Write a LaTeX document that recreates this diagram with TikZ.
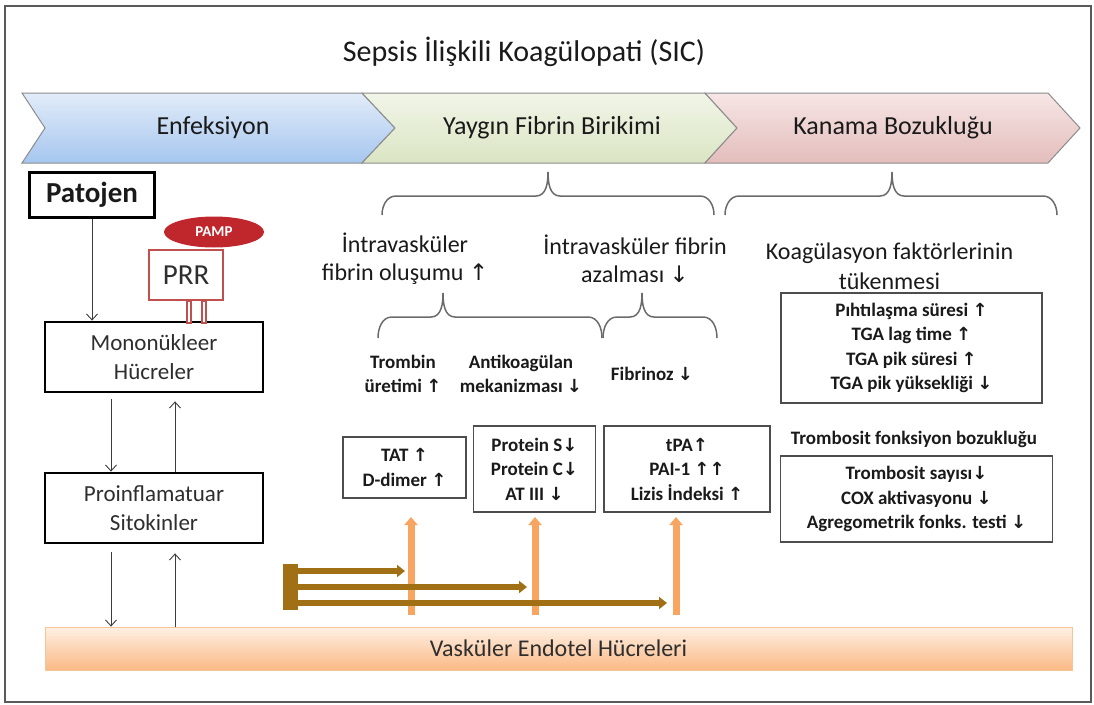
\documentclass[tikz,border=0pt]{standalone}
\usepackage{fontspec}
\setmainfont{Carlito}
\newfontfamily\arrowfont[Scale=0.95]{DejaVu Sans}
\usepackage{xcolor}
\usepackage{tikz}
\usetikzlibrary{positioning, arrows.meta, shapes.geometric, calc}
\definecolor{ink}{HTML}{1A1A1A}
\definecolor{celltext}{HTML}{2E2E2E}
\definecolor{framegray}{HTML}{5A5A5A}
\definecolor{chevline}{HTML}{8C8C8C}
\definecolor{blueA}{HTML}{E2ECF9}
\definecolor{blueB}{HTML}{A6C6EF}
\definecolor{greenA}{HTML}{F1F5E8}
\definecolor{greenB}{HTML}{DAE5C3}
\definecolor{pinkA}{HTML}{F6E6E5}
\definecolor{pinkB}{HTML}{E3BDBC}
\definecolor{endoA}{HTML}{FEF0E4}
\definecolor{endoB}{HTML}{FAB985}
\definecolor{endoline}{HTML}{F5C595}
\definecolor{pampred}{HTML}{C0272D}
\definecolor{prrred}{HTML}{C0504D}
\definecolor{linkgray}{HTML}{3C3C3C}
\definecolor{boxline}{HTML}{4D4D4D}
\definecolor{braceline}{HTML}{6B6B6B}
\definecolor{riseorange}{HTML}{F8A562}
\definecolor{pushbrown}{HTML}{A16F14}
\newcommand\sz[2]{\fontsize{#1}{#2}\selectfont}
\newcommand\upar{{\arrowfont ↑}}
\newcommand\dnar{{\arrowfont ↓}}
% brace with its tip pointing up: x-left, x-tip, x-right, y-tip, y-bar, y-ends
\newcommand\tipbrace[6]{%
  \draw[brace] (#1,#6) to[out=90,in=180] (#1+14,#5) -- (#2-12,#5)
    to[out=0,in=-90] (#2,#4) to[out=-90,in=180] (#2+12,#5)
    -- (#3-14,#5) to[out=0,in=90] (#3,#6);}

\begin{document}
\begin{tikzpicture}[
  x=1pt, y=-1pt,
  every node/.style={align=center, text=ink},
  headline/.style={font=\sz{30}{36}},
  phase/.style={font=\sz{26}{30}},
  chev/.style={draw=chevline, line width=1pt},
  pathbox/.style={rectangle, draw=black, line width=2.8pt, fill=white,
    minimum width=125, minimum height=45, font=\sz{29}{34}\bfseries},
  cellbox/.style={rectangle, draw=black, line width=2.8pt, fill=white,
    minimum width=218, minimum height=70, font=\sz{23}{29}, text=celltext},
  prrbox/.style={rectangle, draw=prrred, line width=1.8pt, fill=white,
    minimum width=74, minimum height=50, font=\sz{29}{34}, text=celltext},
  pamp/.style={ellipse, fill=pampred, minimum width=100, minimum height=31,
    inner sep=0pt, font=\sz{15}{18}\bfseries, text=white},
  leg/.style={draw=prrred, line width=1.4pt, fill=white},
  endo/.style={rectangle, draw=endoline, line width=0.8pt, top color=endoA,
    bottom color=endoB, minimum width=1027, minimum height=43,
    font=\sz{24}{28}, text=celltext},
  note/.style={font=\sz{24}{28}},
  small/.style={font=\sz{19}{24}\bfseries},
  labbox/.style={rectangle, draw=boxline, line width=1.2pt, fill=white,
    inner sep=2pt, font=\sz{19}{24.5}\bfseries},
  brace/.style={draw=braceline, line width=1.5pt},
  link/.style={draw=linkgray, line width=0.9pt,
    -{Straight Barb[length=6pt,width=11pt]}},
  rise/.style={draw=riseorange, line width=7pt,
    -{Triangle[length=8pt,width=13pt]}},
  push/.style={draw=pushbrown, line width=6.5pt,
    -{Triangle[length=8pt,width=12pt]}},
  hub/.style={rectangle, fill=pushbrown, minimum width=15, minimum height=46,
    inner sep=0pt},
]
\useasboundingbox (0,0) rectangle (1094,704);
\draw[framegray, line width=2pt] (5,6) rectangle (1091,702);

\node[headline] (title) at (524,52) {Sepsis İlişkili Koagülopati (SIC)};

% phases
\path[chev, top color=blueA, bottom color=blueB]
  (22,93) -- (362,93) -- (395,128) -- (362,163) -- (22,163) -- (45,128) -- cycle;
\path[chev, top color=greenA, bottom color=greenB]
  (362,93) -- (705,93) -- (737,128) -- (705,163) -- (362,163) -- (395,128) -- cycle;
\path[chev, top color=pinkA, bottom color=pinkB]
  (705,93) -- (1048,93) -- (1080,128) -- (1048,163) -- (705,163) -- (737,128) -- cycle;
\node[phase] (enf) at (213,128) {Enfeksiyon};
\node[phase] (fib) at (552,128) {Yaygın Fibrin Birikimi};
\node[phase] (kan) at (893,128) {Kanama Bozukluğu};

% host response
\node[pathbox] (patojen) at (92,195) {Patojen};
\node[prrbox]  (prr)     at (186,275) {PRR};
\node[pamp]    (pampnode) at (214,232) {PAMP};
\node[cellbox] (mono)    at (154,357) {Mononükleer\\Hücreler};
\node[cellbox] (proinf)  at (154,508) {Proinflamatuar\\Sitokinler};
\node[endo]    (endo)    at (558.5,648.5) {Vasküler Endotel Hücreleri};
\draw[leg] (prr.south) ++(1,0) rectangle ++(4,22);
\draw[leg] (prr.south) ++(16,0) rectangle ++(4,22);

\coordinate (colL) at (111,0);
\coordinate (colR) at (175,0);
\draw[link] (patojen.south) -- (patojen.south |- mono.north);
\draw[link, shorten <=6pt] (colL |- mono.south) -- (colL |- proinf.north);
\draw[link, shorten >=8pt] (colR |- proinf.north) -- (colR |- mono.south);
\draw[link, shorten <=8pt] (colL |- proinf.south) -- (colL |- endo.north);
\draw[link, shorten >=9pt] (colR |- endo.north) -- (colR |- proinf.south);

% fibrin deposition
\tipbrace{382}{548}{714}{172}{196}{215}
\tipbrace{725}{892}{1057}{172}{196}{215}
\tipbrace{378}{443}{602}{293}{317}{338}
\tipbrace{603}{642}{717}{293}{317}{338}
\node[note]  (fibup)    at (405,259) {İntravasküler\\fibrin oluşumu \upar};
\node[note]  (fibdown)  at (635,259) {İntravasküler fibrin\\azalması \dnar};
\node[small] (thromb)   at (403,374) {Trombin\\üretimi \upar};
\node[small] (antico)   at (521,374) {Antikoagülan\\mekanizması \dnar};
\node[small] (fibrinoz) at (652,374) {Fibrinoz \dnar};
\node[labbox, minimum width=123, minimum height=61] (tat)  at (404.5,467.5) {TAT \upar\\D-dimer \upar};
\node[labbox, minimum width=122, minimum height=86] (prot) at (534.5,469) {Protein S\dnar\\Protein C\dnar\\AT III \dnar};
\node[labbox, minimum width=166, minimum height=86] (tpa)  at (687,469) {tPA\upar\\PAI-1 \upar\upar\\Lizis İndeksi \upar};

% bleeding
\node[note, font=\sz{24}{30}] (deplete) at (889.5,266) {Koagülasyon faktörlerinin\\tükenmesi};
\node[labbox, minimum width=261, minimum height=110] (clot) at (911.5,348)
  {Pıhtılaşma süresi \upar\\TGA lag time \upar\\TGA pik süresi \upar\\TGA pik yüksekliği \dnar};
\node[small] (platdys) at (914,439) {Trombosit fonksiyon bozukluğu};
\node[labbox, minimum width=272, minimum height=86] (plat) at (916.5,499)
  {Trombosit sayısı\dnar\\COX aktivasyonu \dnar\\Agregometrik fonks. testi \dnar};

% endothelial signals
\coordinate (r1) at (411,517);
\coordinate (r2) at (535,517);
\coordinate (r3) at (676,517);
\foreach \r in {r1,r2,r3}
  \draw[rise, shorten <=12pt] (\r |- endo.north) -- (\r);
\node[hub] (hub) at (290,587) {};
\coordinate (p1) at (405,571);
\coordinate (p2) at (527,587);
\coordinate (p3) at (667,603);
\foreach \p in {p1,p2,p3}
  \draw[push] (hub.east |- \p) -- (\p);
\end{tikzpicture}
\end{document}
